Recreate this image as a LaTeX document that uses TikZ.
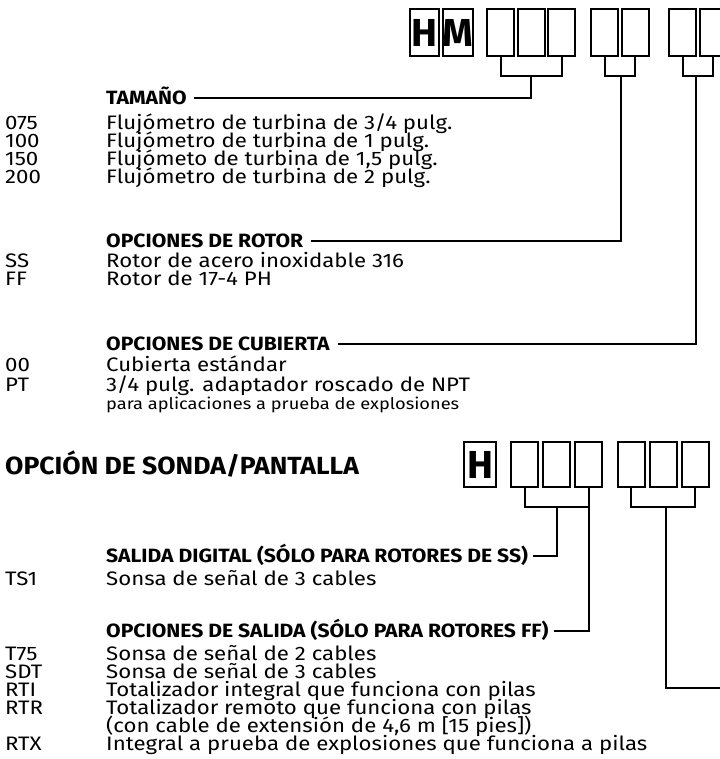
\documentclass[tikz,border=0pt]{standalone}
\usepackage{fontspec}
\setmainfont{Fira Sans}
\newfontfamily\bodyf{Fira Sans}[FakeStretch=1.14]
\newfontfamily\headf{Fira Sans}[FakeStretch=1.1]
\newfontfamily\bigf{Fira Sans}[FakeStretch=1.07]
\begin{document}
\begin{tikzpicture}[x=1pt,y=-1pt,
  bx/.style={draw,line width=2pt,minimum width=27pt,minimum height=47pt,inner sep=0pt},
  bxb/.style={bx,minimum height=45pt},
  ln/.style={line width=2pt},
  hd/.style={anchor=west,inner sep=0pt,font=\headf\bfseries\fontsize{19.2}{19.2}\selectfont,text height=13.2pt,text depth=0pt},
  tx/.style={anchor=west,inner sep=0pt,font=\bodyf\fontsize{19.5}{19.5}\selectfont,text height=13.4pt,text depth=0pt},
  sm/.style={anchor=west,inner sep=0pt,font=\bodyf\fontsize{16}{16}\selectfont,text height=11pt,text depth=0pt},
  big/.style={anchor=west,inner sep=0pt,font=\bigf\bfseries\fontsize{24.8}{24.8}\selectfont,text height=17.1pt,text depth=0pt},
  letr/.style={font=\fontsize{39}{39}\selectfont\bfseries}
]
\useasboundingbox (0,0) rectangle (719,759);
% top code boxes
\node[bx,letr,minimum width=29pt] (t1) at (424.5,32.5) {H};
\node[bx,letr,minimum width=28pt] (t2) at (458,32.5) {M};
\node[bx] (t3) at (500.5,32.5) {};
\node[bx] (t4) at (531.5,32.5) {};
\node[bx] (t5) at (561.5,32.5) {};
\node[bx] (t6) at (604.5,32.5) {};
\node[bx] (t7) at (635,32.5) {};
\node[bx] (t8) at (682.5,32.5) {};
\node[bx] (t9) at (713,32.5) {};
\coordinate (j1) at (531,76);
\coordinate (j2) at (621,76);
\coordinate (j3) at (696,76);
% section 1 text
\node[hd] (tam) at (106,98) {TAMAÑO};
\node[tx] (c075) at (5,122.5) {075};
\node[tx] (d075) at (106,122.5) {Flujómetro de turbina de 3/4 pulg.};
\node[tx] (c100) at (5,140.5) {100};
\node[tx] (d100) at (106,140.5) {Flujómetro de turbina de 1 pulg.};
\node[tx] (c150) at (5,158.5) {150};
\node[tx] (d150) at (106,158.5) {Flujómeto de turbina de 1,5 pulg.};
\node[tx] (c200) at (5,176.5) {200};
\node[tx] (d200) at (106,176.5) {Flujómetro de turbina de 2 pulg.};
\node[hd] (rot) at (106,241) {OPCIONES DE ROTOR};
\node[tx] (css) at (5,261) {SS};
\node[tx] (dss) at (106,261) {Rotor de acero inoxidable 316};
\node[tx] (cff) at (5,279) {FF};
\node[tx] (dff) at (106,279) {Rotor de 17-4 PH};
\node[hd] (cub) at (106,344) {OPCIONES DE CUBIERTA};
\node[tx] (c00) at (5,365) {00};
\node[tx] (d00) at (106,365) {Cubierta estándar};
\node[tx] (cpt) at (5,385) {PT};
\node[tx] (dpt) at (106,385) {3/4 pulg. adaptador roscado de NPT};
\node[sm] (dpt2) at (106,404) {para aplicaciones a prueba de explosiones};
% connectors section 1
\draw[ln] (t3.south) |- (j1) -| (t5.south);
\draw[ln] (j1) |- ([xshift=7pt]tam.east);
\draw[ln] (t6.south) |- (j2) -| (t7.south);
\draw[ln] (j2) |- ([xshift=8pt]rot.east);
\draw[ln] (t8.south) |- (j3) -| (t9.south);
\draw[ln] (j3) |- ([xshift=8pt]cub.east);
% section 2
\node[big] (sonda) at (5,466) {OPCIÓN DE SONDA/PANTALLA};
\node[bxb,letr,minimum width=32pt] (h2) at (480,464.5) {H};
\node[bxb] (ba) at (524.5,464.5) {};
\node[bxb] (bb) at (556.5,464.5) {};
\node[bxb] (bc) at (588.5,464.5) {};
\node[bxb] (bd) at (631,464.5) {};
\node[bxb] (be) at (663,464.5) {};
\node[bxb] (bf) at (695,464.5) {};
\coordinate (j4) at (556.5,507);
\coordinate (j5) at (588.5,507);
\coordinate (j6) at (666,507);
\coordinate (edge) at (721,688);
\node[hd] (sal) at (106,556) {SALIDA DIGITAL (SÓLO PARA ROTORES DE SS)};
\node[tx] (cts1) at (5,579) {TS1};
\node[tx] (dts1) at (106,579) {Sonsa de señal de 3 cables};
\node[hd] (osal) at (106,631) {OPCIONES DE SALIDA (SÓLO PARA ROTORES FF)};
\node[tx] (ct75) at (5,654) {T75};
\node[tx] (dt75) at (106,654) {Sonsa de señal de 2 cables};
\node[tx] (csdt) at (5,672) {SDT};
\node[tx] (dsdt) at (106,672) {Sonsa de señal de 3 cables};
\node[tx] (crti) at (5,690) {RTI};
\node[tx] (drti) at (106,690) {Totalizador integral que funciona con pilas};
\node[tx] (crtr) at (5,708) {RTR};
\node[tx] (drtr) at (106,708) {Totalizador remoto que funciona con pilas};
\node[tx] (drtr2) at (106,726) {(con cable de extensión de 4,6 m [15 pies])};
\node[tx] (crtx) at (5,744) {RTX};
\node[tx] (drtx) at (106,744) {Integral a prueba de explosiones que funciona a pilas};
\draw[ln] (ba.south) |- (j4) -| (bc.south);
\draw[ln] (j4) |- ([xshift=5pt]sal.east);
\draw[ln] (j5) |- ([xshift=5pt]osal.east);
\draw[ln] (bd.south) |- (j6) -| (bf.south);
\draw[ln] (j6) |- (edge);
\end{tikzpicture}
\end{document}
